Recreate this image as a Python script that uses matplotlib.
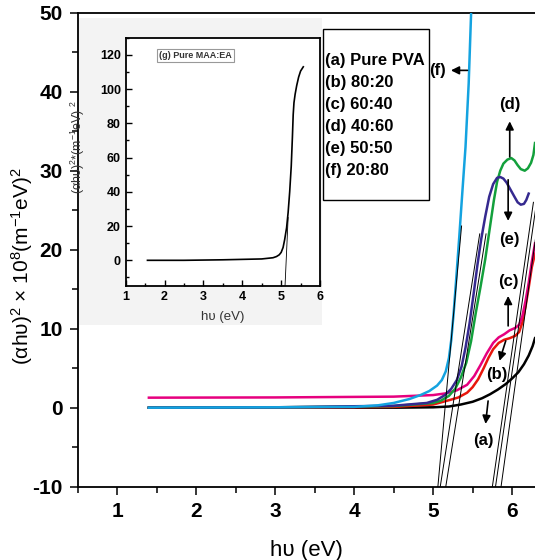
import matplotlib
matplotlib.use("Agg")
import matplotlib.pyplot as plt
import matplotlib.patches as mpatches
from matplotlib.ticker import MultipleLocator

plt.rcParams['font.family'] = ['Liberation Sans', 'DejaVu Sans']
plt.rcParams['mathtext.default'] = 'regular'
plt.rcParams['axes.unicode_minus'] = False

# ---- data ----
labels = ["(a) Pure PVA", "(b) 80:20", "(c) 60:40", "(d) 40:60", "(e) 50:50", "(f) 20:80"]

x_a = [1.40, 3.0, 4.5, 5.0, 5.2, 5.35, 5.5, 5.62, 5.72, 5.82, 5.92, 6.0, 6.08, 6.15, 6.21, 6.26, 6.29]
y_a = [0.0, 0.0, 0.0, 0.05, 0.15, 0.4, 0.75, 1.2, 1.7, 2.3, 3.0, 3.7, 4.5, 5.5, 6.6, 7.8, 8.8]

x_b = [1.40, 3.0, 4.5, 5.0, 5.22, 5.32, 5.43, 5.50, 5.57, 5.64, 5.70, 5.76, 5.83, 5.90, 5.97,
       6.04, 6.09, 6.13, 6.17, 6.21, 6.25, 6.29]
y_b = [0.0, 0.0, 0.1, 0.4, 1.0, 1.3, 1.9, 2.6, 3.6, 5.0, 6.3, 7.4, 8.2, 8.6, 8.8,
       9.1, 9.6, 10.8, 12.8, 15.2, 17.8, 19.5]

x_c = [1.40, 3.0, 4.5, 5.0, 5.15, 5.30, 5.43, 5.52, 5.60, 5.68, 5.76, 5.83, 5.90, 5.97,
       6.04, 6.09, 6.13, 6.17, 6.21, 6.25, 6.29]
y_c = [1.27, 1.3, 1.4, 1.6, 1.8, 2.2, 2.9, 4.0, 5.4, 6.9, 8.2, 8.9, 9.3, 9.8,
       10.1, 10.5, 11.6, 13.5, 15.8, 18.5, 20.8]

x_d = [1.40, 3.0, 4.5, 5.0, 5.1, 5.2, 5.28, 5.35, 5.42, 5.48, 5.54, 5.60, 5.66, 5.72, 5.77,
       5.81, 5.85, 5.89, 5.94, 5.99, 6.03, 6.07, 6.11, 6.16, 6.20, 6.24, 6.27, 6.29]
y_d = [0.0, 0.05, 0.2, 0.6, 0.9, 1.5, 2.4, 3.8, 5.7, 8.4, 12.0, 15.3, 18.8, 22.9, 26.3,
       28.6, 30.0, 30.9, 31.4, 31.6, 31.3, 30.7, 30.2, 30.0, 30.3, 31.0, 32.0, 33.5]

x_e = [1.40, 3.0, 4.5, 4.92, 5.05, 5.15, 5.23, 5.30, 5.36, 5.41, 5.46, 5.51, 5.56, 5.61, 5.66,
       5.71, 5.76, 5.81, 5.85, 5.89, 5.93, 5.98, 6.03, 6.07, 6.11, 6.15, 6.18, 6.21]
y_e = [0.0, 0.05, 0.25, 0.6, 1.0, 1.6, 2.4, 3.5, 5.2, 7.6, 10.6, 14.2, 18.0, 21.4, 24.2,
       26.7, 28.3, 29.1, 29.2, 29.0, 28.5, 27.6, 26.7, 26.0, 25.7, 25.8, 26.3, 27.1]

x_f = [1.40, 3.0, 4.0, 4.3, 4.5, 4.7, 4.84, 4.95, 5.05, 5.11, 5.16, 5.20, 5.23, 5.26, 5.29,
       5.33, 5.37, 5.41, 5.45, 5.48, 5.50]
y_f = [0.0, 0.05, 0.1, 0.3, 0.6, 1.1, 1.6, 2.1, 2.8, 3.5, 4.6, 6.3, 8.6, 12.0, 16.0,
       21.5, 27.3, 33.0, 41.0, 49.7, 55.0]

# tangent lines (x at bottom, x at top, y top)
tan_x0 = [5.86, 5.79, 5.75, 5.16, 5.09, 5.06]
tan_x1 = [6.36, 6.31, 6.27, 5.67, 5.59, 5.36]
tan_y1 = [26, 26, 26, 22, 22, 23]

# inset: pure MAA:EA
x_g = [1.56, 2.5, 3.5, 4.5, 4.79, 4.88, 4.95, 5.0, 5.05, 5.09, 5.14, 5.18, 5.22, 5.26, 5.29,
       5.31, 5.33, 5.36, 5.40, 5.45, 5.50, 5.57]
y_g = [0.0, 0.0, 0.3, 0.8, 1.5, 2.2, 3.2, 4.6, 7.5, 12.0, 19.0, 28.0, 40.0, 55.0, 72.0,
       85.0, 92.0, 97.0, 102.0, 107.0, 110.5, 113.0]

colors = ["#000000", "#e8160c", "#e6007e", "#13a03c", "#35298f", "#14a3e0"]

W, H = 535, 560
def fx(px):
    return px / W
def fy(py):
    return 1 - py / H

fig = plt.figure(figsize=(5.35, 5.6), dpi=100)
ax = fig.add_axes([fx(77.8), fy(486.7), 1 - fx(77.8), fy(12.7) - fy(486.7)])

for xs, ys, c in zip([x_a, x_b, x_c, x_d, x_e, x_f],
                     [y_a, y_b, y_c, y_d, y_e, y_f], colors):
    ax.plot(xs, ys, color=c, lw=1.8, zorder=3, solid_joinstyle="round")

for x0, x1, y1 in zip(tan_x0, tan_x1, tan_y1):
    ax.plot([x0, x1], [-10, y1], color="black", lw=0.7, zorder=4)

ax.set_xlim(0.5, 6.29)
ax.set_ylim(-10, 50)
ax.xaxis.set_major_locator(MultipleLocator(1))
ax.xaxis.set_minor_locator(MultipleLocator(0.5))
ax.yaxis.set_major_locator(MultipleLocator(10))
ax.yaxis.set_minor_locator(MultipleLocator(5))
ax.tick_params(which="major", direction="out", length=6, width=1.1, labelsize=15, pad=5)
ax.tick_params(which="minor", direction="out", length=4, width=1.1)
for lab in ax.get_xticklabels() + ax.get_yticklabels():
    lab.set_fontweight("bold")
ax.spines["right"].set_visible(False)
for s in ["left", "top", "bottom"]:
    ax.spines[s].set_linewidth(1.3)

ax.set_xlabel("h\u03c5 (eV)", fontsize=16, labelpad=14)
fig.text(fx(22), fy(266), "(\u03b1h\u03c5)$^2$ \u00d7 10$^8$(m$^{-1}$eV)$^2$",
         rotation=90, fontsize=15, ha="center", va="center")

# annotations
akw = dict(arrowstyle="-|>", color="black", lw=1.2, mutation_scale=12)
tkw = dict(fontsize=12, fontweight="bold", ha="center", va="center")
ax.annotate("", xy=(5.19, 42.7), xytext=(5.47, 42.7), arrowprops=akw)
ax.text(5.05, 42.7, "(f)", **tkw)
ax.annotate("", xy=(5.97, 36.6), xytext=(5.97, 31.4), arrowprops=akw)
ax.text(5.97, 38.4, "(d)", **tkw)
ax.annotate("", xy=(5.95, 23.3), xytext=(5.95, 29.2), arrowprops=akw)
ax.text(5.97, 21.3, "(e)", **tkw)
ax.annotate("", xy=(5.95, 14.5), xytext=(5.95, 10.0), arrowprops=akw)
ax.text(5.95, 16.0, "(c)", **tkw)
ax.annotate("", xy=(5.83, 5.6), xytext=(5.93, 8.8), arrowprops=akw)
ax.text(5.81, 4.2, "(b)", **tkw)
ax.annotate("", xy=(5.66, -2.4), xytext=(5.70, 1.2), arrowprops=akw)
ax.text(5.64, -4.2, "(a)", **tkw)

# legend box
ax.add_patch(mpatches.Rectangle((fx(323), fy(200)), fx(429) - fx(323), fy(29) - fy(200),
                                transform=fig.transFigure, facecolor="white",
                                edgecolor="black", lw=1.0, zorder=6, clip_on=False))
for i, lab in enumerate(labels):
    fig.text(fx(325), fy(60 + 22.2 * i), lab, fontsize=12, fontweight="bold",
             ha="left", va="center", zorder=7)

# light grey panel behind the inset
ax.add_patch(mpatches.Rectangle((fx(79), fy(325)), fx(322) - fx(79), fy(18) - fy(325),
                                transform=fig.transFigure, facecolor="#f3f3f3",
                                edgecolor="none", zorder=0.5, clip_on=False))

# inset
axi = fig.add_axes([fx(125.7), fy(286), fx(320) - fx(125.7), fy(37.7) - fy(286)])
axi.set_zorder(5)
axi.plot(x_g, y_g, color="black", lw=1.2)
axi.plot([5.10, 5.18], [-15, 25], color="black", lw=0.6)
axi.set_xlim(1, 6)
axi.set_ylim(-15, 130)
axi.xaxis.set_major_locator(MultipleLocator(1))
axi.xaxis.set_minor_locator(MultipleLocator(0.5))
axi.yaxis.set_major_locator(MultipleLocator(20))
axi.yaxis.set_minor_locator(MultipleLocator(10))
axi.tick_params(which="major", direction="in", length=4, width=1.0, labelsize=9)
axi.tick_params(which="minor", direction="in", length=2.5, width=1.0)
for lab in axi.get_xticklabels() + axi.get_yticklabels():
    lab.set_fontweight("bold")
for s in axi.spines.values():
    s.set_linewidth(1.3)
axi.set_xlabel("h\u03c5 (eV)", fontsize=9.5, color="#333333", labelpad=6)
axi.set_ylabel("(\u03b1h\u03c5)$^2$*(m$^{-1}$eV) $^2$", fontsize=9, color="#333333")
axi.yaxis.set_label_coords(-0.2, 0.56)
axi.text(2.8, 119.5, "(g) Pure MAA:EA", fontsize=6.5, fontweight="bold", color="#333333",
         ha="center", va="center",
         bbox=dict(boxstyle="square,pad=0.2", facecolor="white", edgecolor="#999999", lw=0.8))

fig.savefig("out.png", dpi=100)
